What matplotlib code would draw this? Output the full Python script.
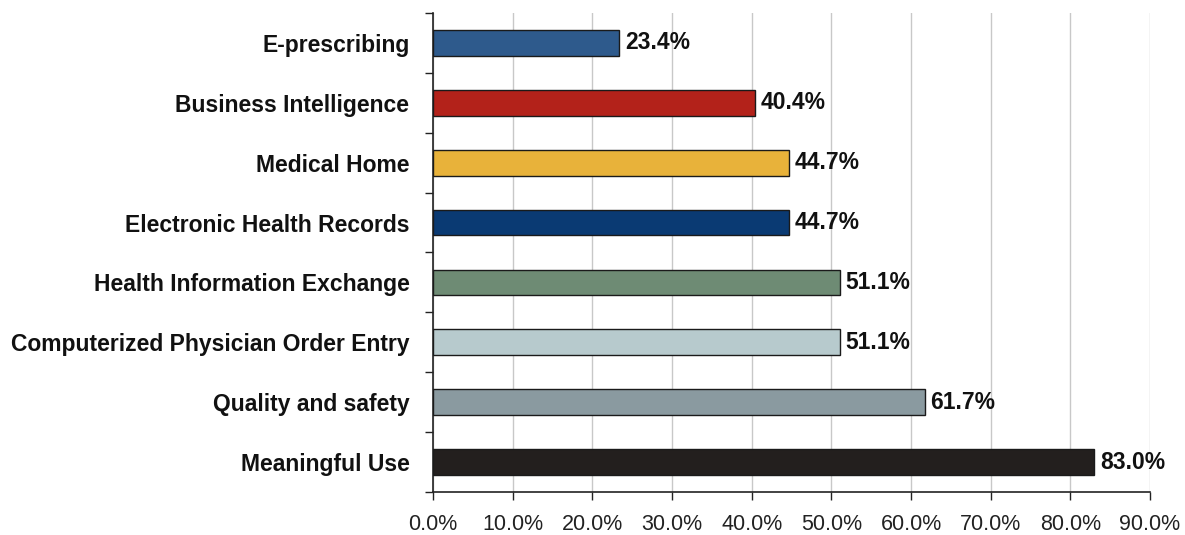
import matplotlib
matplotlib.use("Agg")
import matplotlib.pyplot as plt
import numpy as np

categories = ["E-prescribing", "Business Intelligence", "Medical Home",
              "Electronic Health Records", "Health Information Exchange",
              "Computerized Physician Order Entry", "Quality and safety",
              "Meaningful Use"]
values = [23.4, 40.4, 44.7, 44.7, 51.1, 51.1, 61.7, 83.0]
colors = ["#2E5A8C", "#B3221A", "#E8B23A", "#0A3A73", "#6E8B74",
          "#B7CACD", "#8A9AA0", "#231F1E"]
xticks = [0, 10, 20, 30, 40, 50, 60, 70, 80, 90]

plt.rcParams['font.family'] = ['Liberation Sans', 'DejaVu Sans']

fig = plt.figure(figsize=(11.85, 5.35), dpi=100)
ax = fig.add_axes([0.3654, 0.0804, 0.6051, 0.8953])

y = np.arange(len(categories))
ax.barh(y, values, height=0.43, color=colors, edgecolor="#1a1a1a", linewidth=1.0, zorder=3)
for yi, v in zip(y, values):
    ax.text(v + 0.7, yi, f"{v:.1f}%", va="center", ha="left",
            fontsize=16.5, fontweight="bold", color="#111111")

ax.set_xlim(0, 90)
ax.set_ylim(len(categories) - 0.5, -0.5)
ax.set_xticks(xticks)
ax.set_xticklabels([f"{t:.1f}%" for t in xticks], fontsize=15.5, color="#222222")
ax.set_yticks(y)
ax.set_yticklabels(categories, fontsize=16.5, fontweight="bold", color="#111111")
ax.set_yticks(np.arange(-0.5, len(categories), 1.0), minor=True)
ax.tick_params(axis="y", which="major", length=0, pad=17)
ax.tick_params(axis="y", which="minor", length=6, width=1, color="#222222")
ax.tick_params(axis="x", which="major", length=6, width=1, color="#222222", pad=10)
ax.grid(axis="x", color="#C8C8C8", linewidth=1, zorder=0)
for s in ["top", "right"]:
    ax.spines[s].set_visible(False)
for s in ["left", "bottom"]:
    ax.spines[s].set_color("#222222")
    ax.spines[s].set_linewidth(1.2)

fig.savefig("out.png", dpi=100)
